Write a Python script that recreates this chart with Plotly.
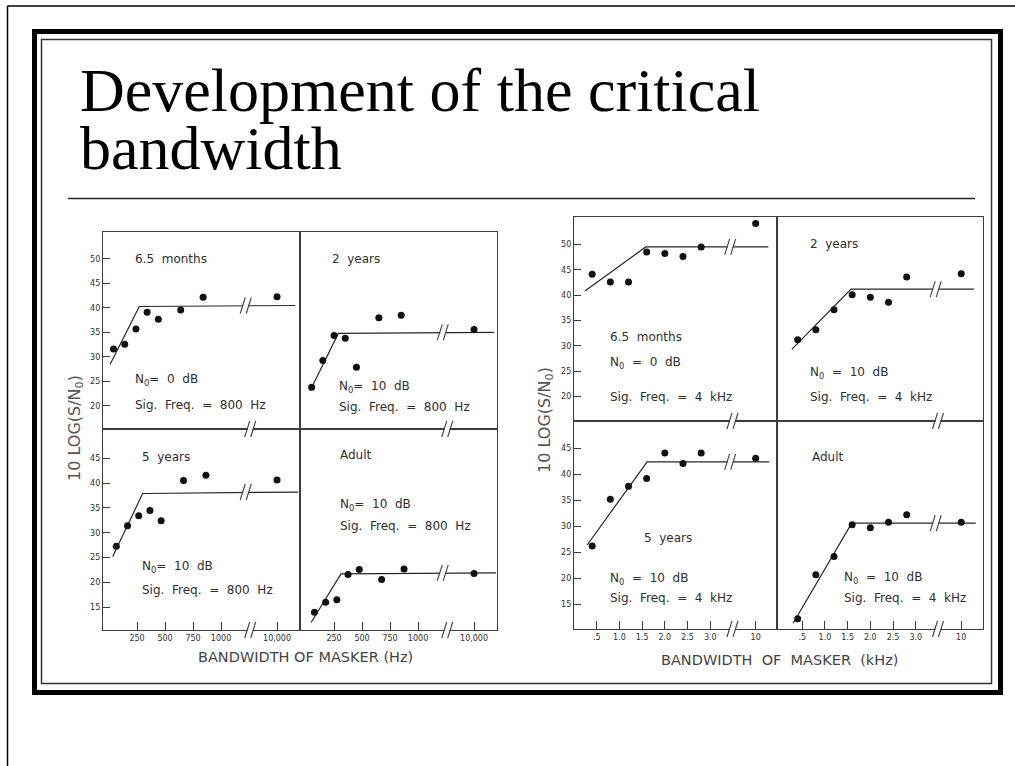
import plotly.graph_objects as go

W, H = 1015, 766

# ---------------- data: 800 Hz signal, masker bandwidth in Hz ----------------
bw_65m_800 = [40, 140, 240, 340, 440, 640, 840, 10000]
snr_65m_800 = [31.6, 32.6, 35.7, 39.1, 37.7, 39.6, 42.2, 42.3]
fit_bw_65m_800 = [10, 270, 11630]
fit_snr_65m_800 = [28.5, 40.3, 40.5]

bw_2y_800 = [50, 150, 250, 350, 450, 650, 850, 10000]
snr_2y_800 = [23.8, 29.3, 34.4, 33.8, 27.9, 38.0, 38.5, 35.6]
fit_bw_2y_800 = [36, 288, 11790]
fit_snr_2y_800 = [23.1, 34.8, 35.0]

bw_5y_800 = [65, 165, 265, 365, 465, 665, 865, 10000]
snr_5y_800 = [27.3, 31.4, 33.4, 34.5, 32.4, 40.5, 41.6, 40.6]
fit_bw_5y_800 = [33, 300, 11880]
fit_snr_5y_800 = [25.2, 37.9, 38.2]

bw_ad_800 = [75, 175, 275, 375, 475, 675, 875, 10000]
snr_ad_800 = [14.0, 16.0, 16.5, 21.6, 22.6, 20.6, 22.7, 21.8]
fit_bw_ad_800 = [45, 312, 11960]
fit_snr_ad_800 = [11.9, 21.7, 21.9]

# ---------------- data: 4 kHz signal, masker bandwidth in kHz ----------------
bw_4k = [0.4, 0.8, 1.2, 1.6, 2.0, 2.4, 2.8, 10]
snr_65m_4k = [44.1, 42.6, 42.6, 48.5, 48.2, 47.6, 49.5, 54.1]
fit_bw_65m_4k = [0.24, 1.58, 12.8]
fit_snr_65m_4k = [40.8, 49.5, 49.5]

snr_2y_4k = [31.2, 33.2, 37.1, 40.1, 39.6, 38.6, 43.6, 44.2]
fit_bw_2y_4k = [0.27, 1.575, 12.8]
fit_snr_2y_4k = [29.3, 41.2, 41.2]

snr_5y_4k = [26.2, 35.2, 37.7, 39.2, 44.1, 42.1, 44.1, 43.1]
fit_bw_5y_4k = [0.29, 1.61, 13.0]
fit_snr_5y_4k = [26.4, 42.4, 42.4]

snr_ad_4k = [12.2, 20.7, 24.2, 30.3, 29.7, 30.8, 32.2, 30.8]
fit_bw_ad_4k = [0.30, 1.59, 13.2]
fit_snr_ad_4k = [11.35, 30.6, 30.6]

# tick labels
hz_ticks = [250, 500, 750, 1000, 10000]
hz_tick_text = ["250", "500", "750", "1000", "10,000"]
khz_ticks = [0.5, 1.0, 1.5, 2.0, 2.5, 3.0, 10]
khz_tick_text = [".5", "1.0", "1.5", "2.0", "2.5", "3.0", "10"]
y_ticks_top = [20, 25, 30, 35, 40, 45, 50]
y_ticks_bot = [15, 20, 25, 30, 35, 40, 45]


# broken bandwidth axes: values past the break are compressed
def hz_pos(v):
    return v if v <= 1100 else 1500 + (v - 10000) / 10


def khz_pos(v):
    return v if v <= 3.5 else 4.0 + (v - 10) * 0.1


HZ_LINE_BREAK, HZ_AXIS_BREAK = 1225, 1265
KHZ_LINE_BREAK, KHZ_AXIS_BREAK = 3.45, 3.5

INK = "#262626"
AX = "#3c3c3c"
TXT = "#2e2e2e"
SANS = "DejaVu Sans"


def px(x):
    return x / W


def py(y):
    return 1 - y / H


fig = go.Figure()

panels = [
    dict(box=(103, 300, 232, 429), xr=[-54, 1705], yr=[15.3, 55.5], bw=bw_65m_800, v=snr_65m_800,
         fx=fit_bw_65m_800, fy=fit_snr_65m_800, pos=hz_pos, yt=y_ticks_top, xt=None, brk=(HZ_LINE_BREAK, HZ_AXIS_BREAK)),
    dict(box=(300, 497, 232, 429), xr=[-54, 1705], yr=[15.3, 55.5], bw=bw_2y_800, v=snr_2y_800,
         fx=fit_bw_2y_800, fy=fit_snr_2y_800, pos=hz_pos, yt=None, xt=None, brk=(HZ_LINE_BREAK, HZ_AXIS_BREAK)),
    dict(box=(103, 300, 429, 630), xr=[-54, 1705], yr=[10.4, 50.9], bw=bw_5y_800, v=snr_5y_800,
         fx=fit_bw_5y_800, fy=fit_snr_5y_800, pos=hz_pos, yt=y_ticks_bot, xt=(hz_ticks, hz_tick_text), brk=(HZ_LINE_BREAK, HZ_AXIS_BREAK)),
    dict(box=(300, 497, 429, 630), xr=[-54, 1705], yr=[10.4, 50.9], bw=bw_ad_800, v=snr_ad_800,
         fx=fit_bw_ad_800, fy=fit_snr_ad_800, pos=hz_pos, yt=None, xt=(hz_ticks, hz_tick_text), brk=(HZ_LINE_BREAK, HZ_AXIS_BREAK)),
    dict(box=(574, 777, 217, 421), xr=[0, 4.47], yr=[15.2, 55.4], bw=bw_4k, v=snr_65m_4k,
         fx=fit_bw_65m_4k, fy=fit_snr_65m_4k, pos=khz_pos, yt=y_ticks_top, xt=None, brk=(KHZ_LINE_BREAK, KHZ_AXIS_BREAK)),
    dict(box=(777, 983, 217, 421), xr=[-0.055, 4.48], yr=[15.2, 55.4], bw=bw_4k, v=snr_2y_4k,
         fx=fit_bw_2y_4k, fy=fit_snr_2y_4k, pos=khz_pos, yt=None, xt=None, brk=(KHZ_LINE_BREAK, KHZ_AXIS_BREAK)),
    dict(box=(574, 777, 421, 629), xr=[0, 4.47], yr=[10.25, 50.25], bw=bw_4k, v=snr_5y_4k,
         fx=fit_bw_5y_4k, fy=fit_snr_5y_4k, pos=khz_pos, yt=y_ticks_bot, xt=(khz_ticks, khz_tick_text), brk=(KHZ_LINE_BREAK, KHZ_AXIS_BREAK)),
    dict(box=(777, 983, 421, 629), xr=[-0.055, 4.48], yr=[10.25, 50.25], bw=bw_4k, v=snr_ad_4k,
         fx=fit_bw_ad_4k, fy=fit_snr_ad_4k, pos=khz_pos, yt=None, xt=(khz_ticks, khz_tick_text), brk=(KHZ_LINE_BREAK, KHZ_AXIS_BREAK)),
]

shapes = []


def axis_ids(n):
    return ("x", "y") if n == 1 else (f"x{n}", f"y{n}")


def add_break(n, xval, yval, on_axis):
    """Draw a '//' axis-break glyph centred on (xval, yval) of panel n."""
    xa, ya = axis_ids(n)
    yref = f"{ya} domain" if on_axis else ya
    base = dict(type="line", xref=xa, yref=yref, xsizemode="pixel", ysizemode="pixel",
                xanchor=xval, yanchor=yval, layer="above")
    shapes.append(dict(base, x0=-3, x1=2, y0=0, y1=0, line=dict(color="white", width=3)))
    shapes.append(dict(base, x0=-6, x1=-1, y0=-8, y1=8, line=dict(color=AX, width=1.1)))
    shapes.append(dict(base, x0=0, x1=5, y0=-8, y1=8, line=dict(color=AX, width=1.1)))


for i, p in enumerate(panels, start=1):
    x0, x1, y0, y1 = p["box"]
    pos = p["pos"]
    xa, ya = axis_ids(i)
    fig.add_trace(go.Scatter(x=[pos(v) for v in p["fx"]], y=p["fy"], mode="lines",
                             line=dict(color=INK, width=1.2), xaxis=xa, yaxis=ya,
                             hoverinfo="skip", showlegend=False))
    fig.add_trace(go.Scatter(x=[pos(v) for v in p["bw"]], y=p["v"], mode="markers",
                             marker=dict(color="#111111", size=7), xaxis=xa, yaxis=ya,
                             showlegend=False))
    xkey = "xaxis" if i == 1 else f"xaxis{i}"
    ykey = "yaxis" if i == 1 else f"yaxis{i}"
    xaxis = dict(domain=[px(x0), px(x1)], range=p["xr"], anchor=ya, showgrid=False, zeroline=False,
                 showline=True, mirror=True, linecolor=AX, linewidth=1.2, fixedrange=True)
    if p["xt"]:
        vals, text = p["xt"]
        xaxis.update(tickmode="array", tickvals=[pos(v) for v in vals], ticktext=text,
                     ticks="inside", ticklen=8, tickcolor=AX, tickwidth=1,
                     tickfont=dict(family=SANS, size=8, color=TXT))
    else:
        xaxis.update(showticklabels=False, ticks="")
    yaxis = dict(domain=[py(y1), py(y0)], range=p["yr"], anchor=xa, showgrid=False, zeroline=False,
                 showline=True, mirror=True, linecolor=AX, linewidth=1.2, fixedrange=True)
    if p["yt"]:
        yaxis.update(tickmode="array", tickvals=p["yt"], ticks="inside", ticklen=7, tickcolor=AX,
                     tickwidth=1, tickfont=dict(family=SANS, size=8, color=TXT))
    else:
        yaxis.update(showticklabels=False, ticks="")
    fig.layout[xkey] = xaxis
    fig.layout[ykey] = yaxis

    line_brk, axis_brk = p["brk"]
    add_break(i, line_brk, p["fy"][-1], on_axis=False)
    add_break(i, axis_brk, 0, on_axis=True)

# ---------------- panel captions ----------------
N0 = "N<sub>0</sub>"
captions = [
    ("6.5  months", 133, 259), (N0 + "=  0  dB", 133, 380), ("Sig.  Freq.  =  800  Hz", 133, 405),
    ("2  years", 330, 259), (N0 + "=  10  dB", 337, 387), ("Sig.  Freq.  =  800  Hz", 337, 407),
    ("5  years", 140, 457), (N0 + "=  10  dB", 140, 567), ("Sig.  Freq.  =  800  Hz", 140, 590),
    ("Adult", 338, 455), (N0 + "=  10  dB", 338, 505), ("Sig.  Freq.  =  800  Hz", 338, 526),
    ("6.5  months", 608, 337), (N0 + "  =  0  dB", 608, 363), ("Sig.  Freq.  =  4  kHz", 608, 397),
    ("2  years", 808, 244), (N0 + "  =  10  dB", 808, 373), ("Sig.  Freq.  =  4  kHz", 808, 397),
    ("5  years", 642, 538), (N0 + "  =  10  dB", 608, 579), ("Sig.  Freq.  =  4  kHz", 608, 598),
    ("Adult", 810, 457), (N0 + "  =  10  dB", 842, 578), ("Sig.  Freq.  =  4  kHz", 842, 598),
]
annotations = []
for text, x, y in captions:
    annotations.append(dict(text=text, x=px(x), y=py(y), xref="paper", yref="paper",
                            xanchor="left", yanchor="middle", showarrow=False,
                            font=dict(family=SANS, size=12, color=TXT)))

# axis titles
for x, y in [(75, 428), (545, 420)]:
    annotations.append(dict(text="10 LOG(S/" + N0 + ")", x=px(x), y=py(y), xref="paper", yref="paper",
                            textangle=-90, showarrow=False, xanchor="center", yanchor="middle",
                            font=dict(family=SANS, size=16, color="#555555")))
for text, x, y in [("BANDWIDTH OF MASKER (Hz)", 305, 657), ("BANDWIDTH  OF  MASKER  (kHz)", 779, 660)]:
    annotations.append(dict(text=text, x=px(x), y=py(y), xref="paper", yref="paper",
                            showarrow=False, xanchor="center", yanchor="middle",
                            font=dict(family=SANS, size=14.5, color="#444444")))

# slide title
for text, y in [("Development of the critical", 90), ("bandwidth", 148)]:
    annotations.append(dict(text=text, x=px(78), y=py(y), xref="paper", yref="paper",
                            showarrow=False, xanchor="left", yanchor="middle",
                            font=dict(family="Liberation Serif", size=62, color="black")))

# slide frame
frame = [
    dict(type="line", x0=px(7.5), x1=px(7.5), y0=py(6), y1=0, line=dict(color="black", width=1.5)),
    dict(type="line", x0=px(7.5), x1=1, y0=py(6), y1=py(6), line=dict(color="black", width=1.5)),
    dict(type="rect", x0=px(34.5), x1=px(1000.5), y0=py(31.5), y1=py(692.5), line=dict(color="black", width=5)),
    dict(type="rect", x0=px(41.5), x1=px(991.5), y0=py(39.5), y1=py(683.5), line=dict(color="#333333", width=1.5)),
    dict(type="line", x0=px(68), x1=px(975), y0=py(198.5), y1=py(198.5), line=dict(color="#222222", width=1.5)),
]
for s in frame:
    s.update(xref="paper", yref="paper")

fig.update_layout(
    width=W, height=H, autosize=False,
    margin=dict(l=0, r=0, t=0, b=0),
    paper_bgcolor="white", plot_bgcolor="white",
    showlegend=False,
    shapes=frame + shapes,
    annotations=annotations,
)

fig.write_html("out.html")
